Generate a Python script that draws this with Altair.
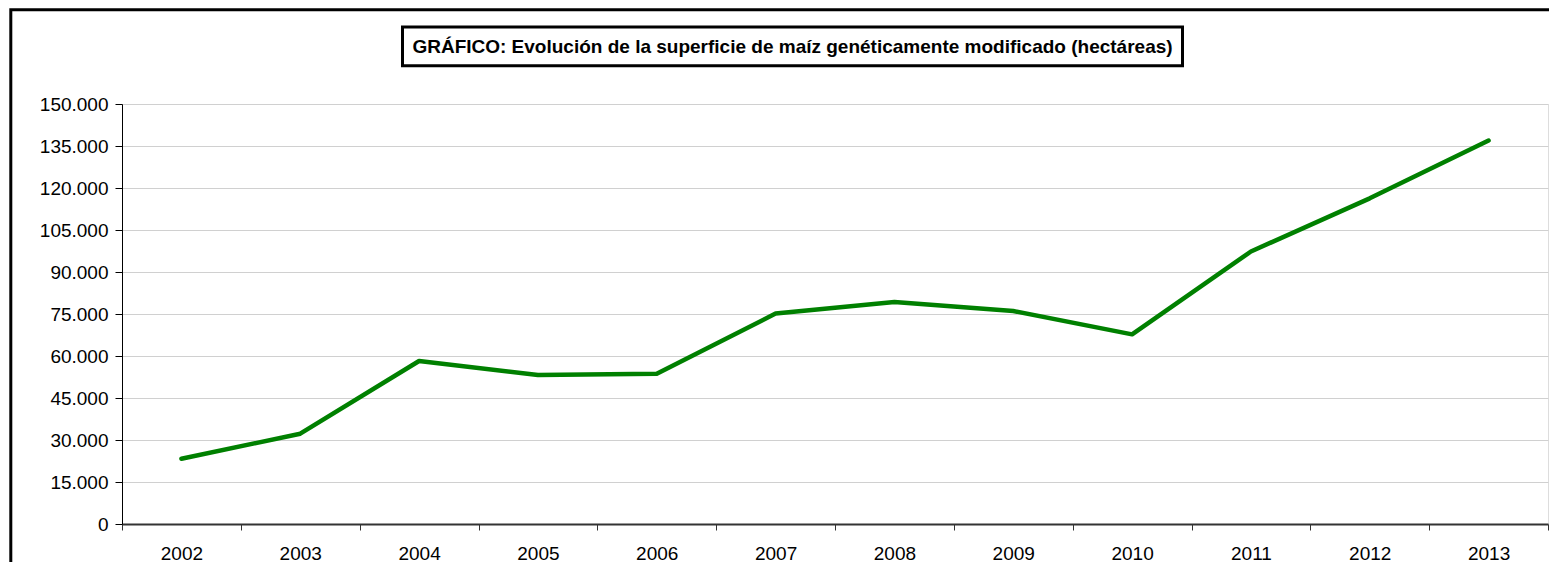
import altair as alt
import pandas as pd

years = ["2002", "2003", "2004", "2005", "2006", "2007", "2008", "2009", "2010", "2011", "2012", "2013"]
hectares = [23280, 32249, 58219, 53225, 53667, 75148, 79269, 76057, 67726, 97326, 116307, 136962]
y_ticks = [0, 15000, 30000, 45000, 60000, 75000, 90000, 105000, 120000, 135000, 150000]
title_text = "GRÁFICO: Evolución de la superficie de maíz genéticamente modificado (hectáreas)"

df = pd.DataFrame({"Año": years, "Hectáreas": hectares})
FONT = "Liberation Sans"
FS = 19

line = alt.Chart(df).mark_line(color="#008000", strokeWidth=4.5, strokeCap="round", strokeJoin="round").encode(
    x=alt.X("Año:O", sort=years,
            scale=alt.Scale(type="band", paddingInner=0, paddingOuter=0),
            axis=alt.Axis(title=None, labelAngle=0, tickBand="extent", grid=False,
                          domainColor="#333333", domainWidth=2, tickColor="#333333",
                          tickSize=6, tickWidth=1, labelPadding=14,
                          labelFont=FONT, labelFontSize=FS, labelColor="#000000")),
    y=alt.Y("Hectáreas:Q",
            scale=alt.Scale(domain=[0, 150000], nice=False, zero=True),
            axis=alt.Axis(title=None, values=y_ticks, grid=True, gridColor="#d0d0d0", gridWidth=1,
                          domainColor="#000000", domainWidth=1, tickColor="#000000",
                          tickSize=7, tickWidth=1, labelPadding=7,
                          labelExpr="datum.value == 0 ? '0' : format(datum.value / 1000, 'd') + '.000'",
                          labelFont=FONT, labelFontSize=FS, labelColor="#000000")),
)

box = alt.Chart(pd.DataFrame({"k": [0]})).mark_rect(fill="white", stroke="black", strokeWidth=3).encode(
    x=alt.value(280.5), x2=alt.value(1060.5), y=alt.value(-77), y2=alt.value(-38.3)
)

title = alt.Chart(pd.DataFrame({"t": [title_text]})).mark_text(
    font=FONT, fontSize=FS, fontWeight="bold", color="black", align="center", baseline="middle"
).encode(x=alt.value(670.5), y=alt.value(-57.2), text="t:N")

outer = alt.Chart(pd.DataFrame({"k": [0]})).mark_rect(fill=None, filled=False, stroke="black", strokeWidth=3).encode(
    x=alt.value(-111.2), x2=alt.value(1480), y=alt.value(-94.3), y2=alt.value(520)
)

chart = alt.layer(outer, box, title, line).properties(
    width=1426, height=420,
    autosize=alt.AutoSizeParams(type="none"),
    padding={"left": 114, "top": 96, "right": 1, "bottom": 38},
).configure_view(stroke="#444444", strokeWidth=1.5).configure(background="white")

chart.save("out.html", embed_options={"renderer": "svg", "actions": False})
